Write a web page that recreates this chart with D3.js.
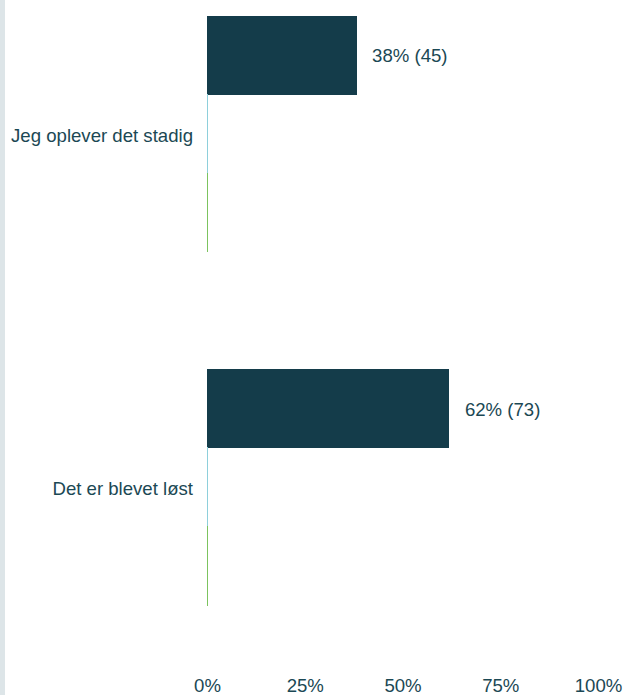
<!DOCTYPE html>
<html>
<head>
<meta charset="utf-8">
<script src="https://cdn.jsdelivr.net/npm/d3@7"></script>
<style>
  body { margin: 0; background: #fff; }
  svg { display: block; font-family: "Liberation Sans", Arial, sans-serif; }
</style>
</head>
<body>
<div id="chart"></div>
<script>
// data
var categories = ["Jeg oplever det stadig", "Det er blevet løst"];
var seriesNames = ["Serie 1", "Serie 2", "Serie 3"];
var counts1 = [45, 73];
var counts2 = [0, 0];
var counts3 = [0, 0];
var percentLabels = ["38%", "62%"];
var tickValues = [0, 25, 50, 75, 100];
var total = 118;

var seriesColors = ["#143c4a", "#8ecfdb", "#7cc35f"];
var textColor = "#1b4854";
var fontSize = "18.6px";

var width = 626, height = 695;

var svg = d3.select("#chart")
  .append("svg")
  .attr("width", width)
  .attr("height", height);

// left grey strip
svg.append("rect")
  .attr("x", 0).attr("y", 0)
  .attr("width", 5).attr("height", height)
  .attr("fill", "#dde5e8");

var rows = categories.map(function (c, i) {
  return { cat: c, values: [counts1[i], counts2[i], counts3[i]], pct: percentLabels[i] };
});

// X axis (percent)
var x = d3.scaleLinear()
  .domain([0, 100])
  .range([207, 598]);

// Y bands
var y = d3.scaleBand()
  .domain(categories)
  .range([16, 605])
  .paddingInner(118 / 353.6)
  .paddingOuter(0);

var ySub = d3.scaleBand()
  .domain(seriesNames)
  .range([0, y.bandwidth()])
  .padding(0);

var groups = svg.selectAll("g.group")
  .data(rows)
  .enter()
  .append("g")
  .attr("class", "group")
  .attr("transform", function (d) { return "translate(0," + y(d.cat) + ")"; });

// bars (zero values still show their outline as a thin line)
groups.selectAll("rect")
  .data(function (d) {
    return d.values.map(function (v, j) { return { s: seriesNames[j], v: v, j: j }; });
  })
  .enter()
  .append("rect")
  .attr("x", x(0))
  .attr("y", function (d) { return ySub(d.s); })
  .attr("width", function (d) { return Math.max(x(d.v / total * 100) - x(0), 0.01); })
  .attr("height", ySub.bandwidth())
  .attr("fill", function (d) { return seriesColors[d.j]; })
  .attr("stroke", function (d) { return seriesColors[d.j]; })
  .attr("stroke-width", 1)
  .attr("shape-rendering", "crispEdges");

// value labels for first series
groups.append("text")
  .attr("x", function (d) { return x(d.values[0] / total * 100) + 16; })
  .attr("y", ySub(seriesNames[0]) + ySub.bandwidth() / 2)
  .attr("dy", "0.37em")
  .attr("fill", textColor)
  .style("font-size", fontSize)
  .text(function (d) { return d.pct + " (" + d.values[0] + ")"; });

// category labels
groups.append("text")
  .attr("x", 193)
  .attr("y", y.bandwidth() / 2)
  .attr("dy", "0.42em")
  .attr("text-anchor", "end")
  .attr("fill", textColor)
  .style("font-size", fontSize)
  .text(function (d) { return d.cat; });

// bottom axis tick labels
var xAxis = svg.append("g")
  .attr("transform", "translate(0,692)")
  .call(d3.axisBottom(x).tickValues(tickValues).tickFormat(function (d) { return d + "%"; }).tickSize(0).tickPadding(0));
xAxis.select(".domain").remove();
xAxis.selectAll("text")
  .attr("y", 0)
  .attr("dy", 0)
  .attr("fill", textColor)
  .style("font-size", fontSize)
  .style("font-family", "'Liberation Sans', Arial, sans-serif");
</script>
</body>
</html>
